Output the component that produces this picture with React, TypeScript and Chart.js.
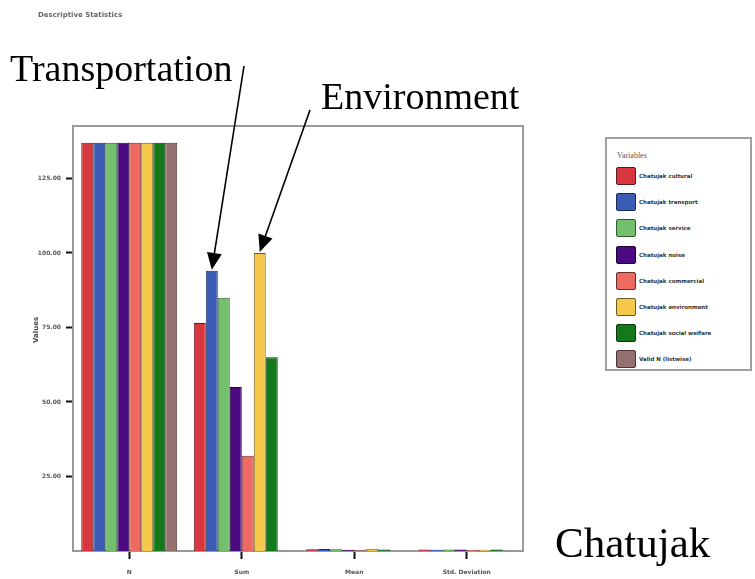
import React, { useEffect, useRef } from "react";
import { Chart, registerables } from "chart.js";

Chart.register(...registerables);

// ---- data ----
const categories = ["N", "Sum", "Mean", "Std. Deviation"];
const yTicks = [25, 50, 75, 100, 125];
const seriesLabels = [
  "Chatujak cultural",
  "Chatujak transport",
  "Chatujak service",
  "Chatujak noise",
  "Chatujak commercial",
  "Chatujak environment",
  "Chatujak social welfare",
  "Valid N (listwise)",
];
const culturalValues = [137, 76.5, 0.56, 0.5];
const transportValues = [137, 94, 0.69, 0.46];
const serviceValues = [137, 85, 0.62, 0.49];
const noiseValues = [137, 55, 0.4, 0.49];
const commercialValues = [137, 32, 0.23, 0.42];
const environmentValues = [137, 100, 0.73, 0.45];
const welfareValues = [137, 65, 0.47, 0.5];
const validNValues = [137, null, null, null];
const seriesValues = [
  culturalValues,
  transportValues,
  serviceValues,
  noiseValues,
  commercialValues,
  environmentValues,
  welfareValues,
  validNValues,
];
const fillColors = [
  "#d9373f",
  "#3a5cb4",
  "#72c06e",
  "#4b0a82",
  "#ec6a62",
  "#f4c84a",
  "#13791b",
  "#957070",
];
const borderColors = [
  "#5a1a1e",
  "#1c2a55",
  "#2f5a2e",
  "#1a0333",
  "#6a2e2a",
  "#6e5a1f",
  "#0a3a0d",
  "#4a3535",
];
const yMax = 142.6;

const W = 755;
const H = 579;

function drawArrow(ctx: CanvasRenderingContext2D, x0: number, y0: number, x1: number, y1: number) {
  const ang = Math.atan2(y1 - y0, x1 - x0);
  const len = 17;
  const half = 7.5;
  const bx = x1 - len * Math.cos(ang);
  const by = y1 - len * Math.sin(ang);
  ctx.save();
  ctx.strokeStyle = "#000";
  ctx.fillStyle = "#000";
  ctx.lineWidth = 1.6;
  ctx.beginPath();
  ctx.moveTo(x0, y0);
  ctx.lineTo(bx, by);
  ctx.stroke();
  ctx.beginPath();
  ctx.moveTo(x1, y1);
  ctx.lineTo(bx + half * Math.sin(ang), by - half * Math.cos(ang));
  ctx.lineTo(bx - half * Math.sin(ang), by + half * Math.cos(ang));
  ctx.closePath();
  ctx.fill();
  ctx.restore();
}

const framePlugin = {
  id: "frame",
  afterDraw(chart: any) {
    const { ctx, chartArea } = chart;
    ctx.save();
    ctx.strokeStyle = "#9a9a9a";
    ctx.lineWidth = 2;
    ctx.beginPath();
    ctx.moveTo(chartArea.left, chartArea.top);
    ctx.lineTo(chartArea.right, chartArea.top);
    ctx.lineTo(chartArea.right, chartArea.bottom);
    ctx.stroke();
    ctx.restore();
    const t = chart.getDatasetMeta(1).data[1];
    const e = chart.getDatasetMeta(5).data[1];
    if (t) drawArrow(ctx, 244, 66, t.x, t.y - 1);
    if (e) drawArrow(ctx, 310, 110, e.x, e.y - 1);
  },
};

export default function App() {
  const ref = useRef<HTMLCanvasElement | null>(null);

  useEffect(() => {
    if (!ref.current) return;
    const tickFont = { size: 6, family: "DejaVu Sans", weight: "bold" as const };
    const chart = new Chart(ref.current, {
      type: "bar",
      data: {
        labels: categories,
        datasets: seriesValues.map((v, i) => ({
          label: seriesLabels[i],
          data: v as any,
          backgroundColor: fillColors[i],
          borderColor: borderColors[i],
          borderWidth: 1,
          barPercentage: 1,
          categoryPercentage: 0.853,
        })),
      },
      options: {
        responsive: false,
        animation: false,
        layout: { padding: { top: 126, right: 232, left: 0, bottom: 0 } },
        plugins: {
          legend: { display: false },
          title: { display: false },
          tooltip: { enabled: false },
        },
        scales: {
          x: {
            grid: {
              display: true,
              drawOnChartArea: false,
              drawTicks: true,
              tickLength: 8,
              tickColor: "#111",
              tickWidth: 2,
              offset: false,
            },
            border: { display: true, color: "#9a9a9a", width: 2 },
            ticks: {
              font: tickFont,
              color: "#555",
              padding: 10,
              maxRotation: 0,
              autoSkip: false,
            },
            afterFit: (s: any) => {
              s.height = 28;
            },
          },
          y: {
            min: 0,
            max: yMax,
            afterBuildTicks: (s: any) => {
              s.ticks = yTicks.map((v) => ({ value: v }));
            },
            ticks: {
              font: tickFont,
              color: "#555",
              padding: 5,
              callback: (v: any) => Number(v).toFixed(2),
            },
            grid: {
              drawOnChartArea: false,
              drawTicks: true,
              tickLength: 7,
              tickColor: "#111",
              tickWidth: 2,
            },
            border: { display: true, color: "#9a9a9a", width: 2 },
            afterFit: (s: any) => {
              s.width = 73;
            },
          },
        },
      },
      plugins: [framePlugin],
    });
    return () => chart.destroy();
  }, []);

  const big: React.CSSProperties = {
    position: "absolute",
    fontFamily: "'Liberation Serif', 'Times New Roman', serif",
    lineHeight: 1,
    color: "#000",
    whiteSpace: "nowrap",
  };

  return (
    <div style={{ position: "absolute", left: 0, top: 0, width: W, height: H, background: "#fff", overflow: "hidden" }}>
      <canvas ref={ref} width={W} height={H} style={{ position: "absolute", left: 0, top: 0 }} />
      <div
        style={{
          position: "absolute",
          left: 38,
          top: 11,
          fontFamily: "'DejaVu Sans', sans-serif",
          fontSize: 7,
          fontWeight: "bold",
          color: "#666",
          whiteSpace: "nowrap",
        }}
      >
        Descriptive Statistics
      </div>
      <div style={{ ...big, left: 10, top: 49, fontSize: 38 }}>Transportation</div>
      <div style={{ ...big, left: 321, top: 77, fontSize: 38 }}>Environment</div>
      <div style={{ ...big, left: 555, top: 521, fontSize: 43 }}>Chatujak</div>
      <div
        style={{
          position: "absolute",
          left: 36,
          top: 330,
          transform: "translate(-50%, -50%) rotate(-90deg)",
          fontFamily: "'DejaVu Sans', sans-serif",
          fontSize: 7,
          fontWeight: "bold",
          color: "#444",
          whiteSpace: "nowrap",
        }}
      >
        Values
      </div>
      <div
        style={{
          position: "absolute",
          left: 605,
          top: 137,
          width: 147,
          height: 234,
          border: "2px solid #a0a0a0",
          boxSizing: "border-box",
          background: "#fff",
        }}
      >
        <div
          style={{
            position: "absolute",
            left: 10,
            top: 12,
            fontFamily: "'Liberation Serif', serif",
            fontSize: 8,
            color: "#555",
          }}
        >
          Variables
        </div>
        {seriesLabels.map((lab, i) => (
          <div key={lab} style={{ position: "absolute", left: 9, top: 28 + i * 26.2, height: 18, display: "flex", alignItems: "center" }}>
            <div
              style={{
                width: 20,
                height: 18,
                background: fillColors[i],
                border: `1.5px solid ${borderColors[i]}`,
                borderRadius: 2,
                boxSizing: "border-box",
              }}
            />
            <div
              style={{
                marginLeft: 3,
                fontFamily: "'DejaVu Sans', sans-serif",
                fontSize: 5.5,
                fontWeight: "bold",
                color: "#333",
                whiteSpace: "nowrap",
              }}
            >
              {lab}
            </div>
          </div>
        ))}
      </div>
    </div>
  );
}
